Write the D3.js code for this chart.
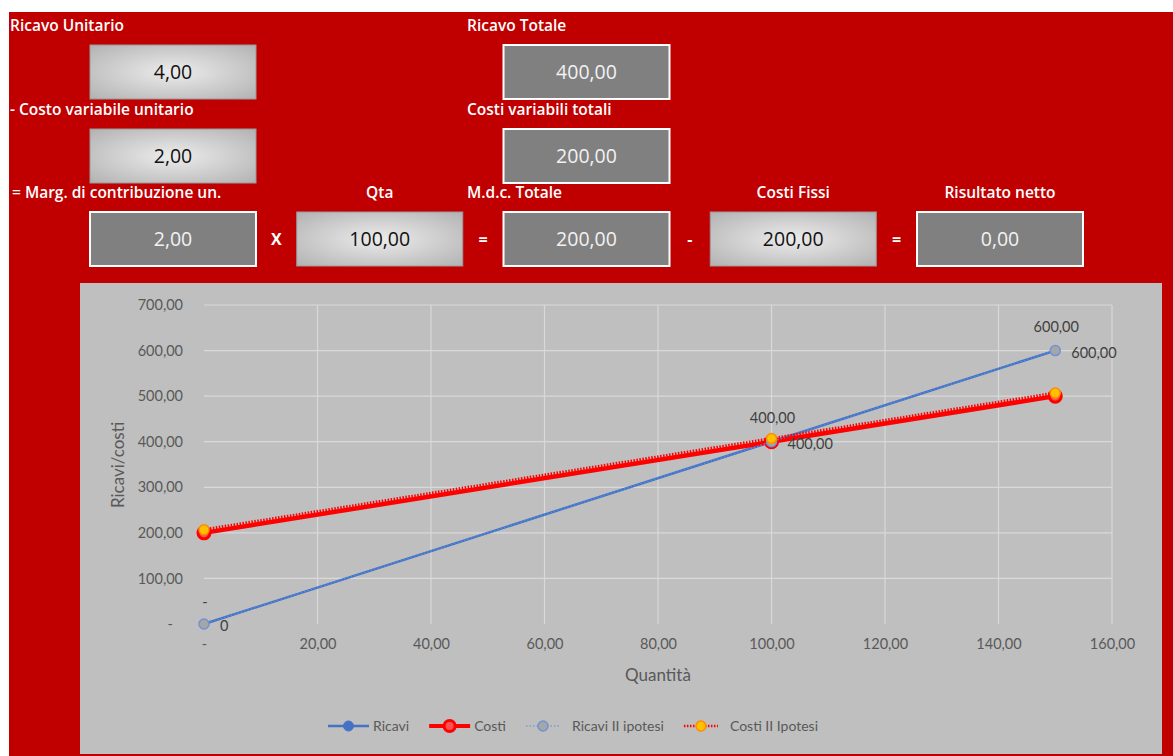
<!DOCTYPE html>
<html>
<head>
<meta charset="utf-8">
<script src="https://cdn.jsdelivr.net/npm/d3@7"></script>
<style>
  body { margin: 0; background: #fff; }
  svg text { font-family: "Open Sans", sans-serif; }
  .chart text { font-family: Lato, "Open Sans", sans-serif; }
</style>
</head>
<body>
<div id="vis"></div>
<script>
// top panel fields
var fieldLabels = ["Ricavo Unitario", "Ricavo Totale", "- Costo variabile unitario", "Costi variabili totali",
  "= Marg. di contribuzione un.", "Qta", "M.d.c. Totale", "Costi Fissi", "Risultato netto"];
var fieldValues = [4, 400, 2, 200, 2, 100, 200, 200, 0];
var fieldInput = [true, false, true, false, false, true, false, true, false];
var operators = ["X", "=", "-", "="];

// chart series
var qty = [0, 100, 150];
var ricavi = [0, 400, 600];
var costi = [200, 400, 500];
var ricaviII = [0, 400, 600];
var costiII = [207, 407, 507];
var xTicks = [0, 20, 40, 60, 80, 100, 120, 140, 160];
var yTicks = [0, 100, 200, 300, 400, 500, 600, 700];
var seriesNames = ["Ricavi", "Costi", "Ricavi II ipotesi", "Costi II Ipotesi"];

var W = 1173, H = 756;
var it = d3.formatLocale({decimal: ",", thousands: ".", grouping: [3], currency: ["€", ""]});
var f2 = it.format(",.2f");
var acc = function(v) { return v === 0 ? "-" : f2(v); };

var svg = d3.select("#vis").append("svg").attr("width", W).attr("height", H);

svg.append("rect").attr("x", 9).attr("y", 12).attr("width", W - 9).attr("height", H - 12)
  .attr("fill", "#c00000");

var defs = svg.append("defs");
var grad = defs.append("radialGradient").attr("id", "lightbox")
  .attr("cx", "50%").attr("cy", "50%").attr("r", "75%");
grad.append("stop").attr("offset", "0%").attr("stop-color", "#ececec");
grad.append("stop").attr("offset", "100%").attr("stop-color", "#aeaeae");

// layout of the panel (row, col) for each field
var fieldRow = [0, 0, 1, 1, 2, 2, 2, 2, 2];
var fieldCol = [0, 2, 0, 2, 0, 1, 2, 3, 4];
var colX = d3.scaleLinear().domain([0, 4]).range([90, 917]);
var rowY = [45, 129, 212];
var boxW = 166, boxH = 54;

var panel = svg.append("g");
fieldLabels.forEach(function(lab, i) {
  var c = fieldCol[i], r = fieldRow[i];
  var bx = colX(c), by = rowY[r];
  var g = panel.append("g");
  var lx, anchor;
  if (c === 0) { lx = r === 2 ? 12 : 10; anchor = "start"; }
  else if (c === 2) { lx = 467; anchor = "start"; }
  else { lx = bx + boxW / 2; anchor = "middle"; }
  g.append("text").attr("x", lx).attr("y", by - 14).attr("text-anchor", anchor)
    .attr("fill", "#fff").attr("font-size", 15.5).attr("font-weight", 600).text(lab);
  g.append("rect").attr("x", bx).attr("y", by).attr("width", boxW).attr("height", boxH)
    .attr("fill", fieldInput[i] ? "url(#lightbox)" : "#808080")
    .attr("stroke", fieldInput[i] ? "#9a9a9a" : "#fff")
    .attr("stroke-width", fieldInput[i] ? 1 : 2);
  g.append("text").attr("x", bx + boxW / 2).attr("y", by + boxH / 2 + 7).attr("text-anchor", "middle")
    .attr("fill", fieldInput[i] ? "#111" : "#f2f2f2").attr("font-size", 19.5).text(f2(fieldValues[i]));
});
operators.forEach(function(op, i) {
  panel.append("text").attr("x", (colX(i) + boxW + colX(i + 1)) / 2).attr("y", rowY[2] + boxH / 2 + 6)
    .attr("text-anchor", "middle").attr("fill", "#fff").attr("font-size", 16).attr("font-weight", 700).text(op);
});

// chart
var chart = svg.append("g").attr("class", "chart");
chart.append("rect").attr("x", 80).attr("y", 283).attr("width", 1082).attr("height", 471).attr("fill", "#bfbfbf");

var x = d3.scaleLinear().domain([0, 160]).range([204, 1112]);
var y = d3.scaleLinear().domain([0, 700]).range([624, 305]);

chart.append("g").selectAll("line").data(yTicks.filter(function(d) { return d > 0; })).join("line")
  .attr("x1", x(0)).attr("x2", x(160)).attr("y1", function(d) { return y(d); }).attr("y2", function(d) { return y(d); })
  .attr("stroke", "#d9d9d9").attr("stroke-width", 1.2);
chart.append("g").selectAll("line").data(xTicks.filter(function(d) { return d > 0; })).join("line")
  .attr("y1", y(0)).attr("y2", y(700)).attr("x1", function(d) { return x(d); }).attr("x2", function(d) { return x(d); })
  .attr("stroke", "#d9d9d9").attr("stroke-width", 1.2);

var xAxis = chart.append("g").attr("transform", "translate(0," + (y(0) + 12) + ")")
  .call(d3.axisBottom(x).tickValues(xTicks).tickSize(0).tickFormat(acc));
var yAxis = chart.append("g").attr("transform", "translate(" + (x(0) - 18) + ",0)")
  .call(d3.axisLeft(y).tickValues(yTicks).tickSize(0).tickFormat(acc));
[xAxis, yAxis].forEach(function(a) {
  a.select(".domain").remove();
  a.selectAll("text").attr("fill", "#595959").attr("font-size", 14.5).attr("font-family", "Lato, sans-serif");
});
yAxis.selectAll("text").filter(function(d) { return d === 0; }).attr("dx", -10);

chart.append("text").attr("transform", "translate(124,465) rotate(-90)").attr("text-anchor", "middle")
  .attr("fill", "#595959").attr("font-size", 17).text("Ricavi/costi");
chart.append("text").attr("x", 658).attr("y", 681).attr("text-anchor", "middle")
  .attr("fill", "#595959").attr("font-size", 17).text("Quantità");

var styles = [
  {vals: ricavi, stroke: "#4472c4", width: 2.5, dash: null, r: 4, fill: "#4472c4", mstroke: "#4472c4", mw: 1},
  {vals: costi, stroke: "#ff0000", width: 4.5, dash: null, r: 6, fill: "#ff5050", mstroke: "#ff0000", mw: 3},
  {vals: ricaviII, stroke: "#5b8ad8", width: 1.5, dash: "1.5,2", r: 5, fill: "#a6a6a6", mstroke: "#6f93d6", mw: 1.5},
  {vals: costiII, stroke: "#ff0000", width: 3, dash: "1.5,1.5", r: 5, fill: "#ffc000", mstroke: "#ff8c00", mw: 1.5}
];
var line = d3.line().x(function(d) { return x(d[0]); }).y(function(d) { return y(d[1]); });

styles.forEach(function(s) {
  var pts = qty.map(function(q, i) { return [q, s.vals[i]]; });
  chart.append("path").datum(pts).attr("d", line).attr("fill", "none")
    .attr("stroke", s.stroke).attr("stroke-width", s.width).attr("stroke-dasharray", s.dash);
  chart.append("g").selectAll("circle").data(pts).join("circle")
    .attr("cx", function(d) { return x(d[0]); }).attr("cy", function(d) { return y(d[1]); })
    .attr("r", s.r).attr("fill", s.fill).attr("stroke", s.mstroke).attr("stroke-width", s.mw);
});

// data labels
var lblRight = qty.map(function(q, i) { return [q, ricavi[i]]; });
chart.append("g").selectAll("text").data(lblRight).join("text")
  .attr("x", function(d) { return x(d[0]) + 16; }).attr("y", function(d) { return y(d[1]) + 7; })
  .attr("fill", "#404040").attr("font-size", 14.5)
  .text(function(d) { return d[1] === 0 ? "0" : f2(d[1]); });
var lblTop = qty.map(function(q, i) { return [q, ricaviII[i]]; });
chart.append("g").selectAll("text").data(lblTop).join("text")
  .attr("x", function(d) { return x(d[0]) + 1; }).attr("y", function(d) { return y(d[1]) - (d[1] === 0 ? 17 : 19); })
  .attr("text-anchor", "middle").attr("fill", "#404040").attr("font-size", 14.5)
  .text(function(d) { return acc(d[1]); });

// legend
var legend = chart.append("g").attr("transform", "translate(328,726)");
var lx = 0;
seriesNames.forEach(function(name, i) {
  var s = styles[i];
  var sw = i < 2 ? 41 : 34;
  var g = legend.append("g").attr("transform", "translate(" + lx + ",0)");
  g.append("line").attr("x1", 0).attr("x2", sw).attr("stroke", s.stroke)
    .attr("stroke-width", i === 1 ? 4 : (i === 0 ? 2.5 : s.width * 0.8)).attr("stroke-dasharray", s.dash);
  g.append("circle").attr("cx", sw / 2).attr("r", i === 1 ? 5.5 : 5).attr("fill", s.fill)
    .attr("stroke", s.mstroke).attr("stroke-width", i === 1 ? 3 : s.mw);
  var t = g.append("text").attr("x", sw + (i < 2 ? 4 : 12)).attr("y", 5).attr("fill", "#595959")
    .attr("font-size", 14).text(name);
  lx += sw + (i < 2 ? 4 : 12) + t.node().getComputedTextLength() + 20;
});
</script>
</body>
</html>
